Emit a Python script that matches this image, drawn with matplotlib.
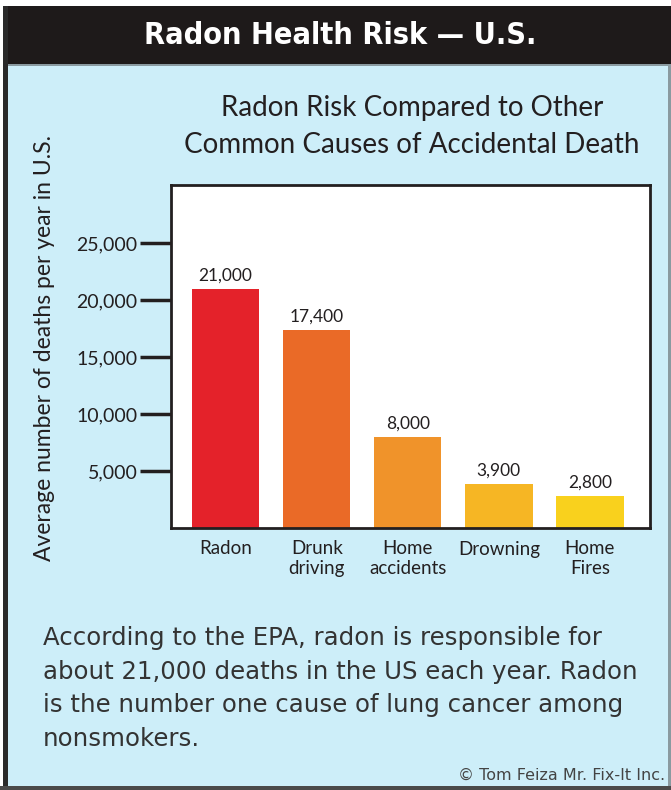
import numpy as np
import matplotlib.pyplot as plt
from matplotlib.patches import Rectangle

# data
causes = ["Radon", "Drunk\ndriving", "Home\naccidents", "Drowning", "Home\nFires"]
deaths = [21000, 17400, 8000, 3900, 2800]
labels = ["21,000", "17,400", "8,000", "3,900", "2,800"]
colors = ["#e4222a", "#ea6a27", "#f0932a", "#f6b624", "#f9d11d"]
yticks = [5000, 10000, 15000, 20000, 25000]
ytick_labels = ["5,000", "10,000", "15,000", "20,000", "25,000"]

W, H = 671, 790
bg = "#cdeef9"
sans = ["Lato", "DejaVu Sans"]
hand = ["DejaVu Sans"]

fig = plt.figure(figsize=(W/100, H/100), dpi=100)
fig.patch.set_facecolor(bg)

def band(x0, y0, w, h, c):
    # rectangle given in pixels from the top-left corner
    fig.add_artist(Rectangle((x0/W, 1-(y0+h)/H), w/W, h/H, transform=fig.transFigure,
                             facecolor=c, edgecolor="none"))

band(0, 0, W, 6, "white")
band(0, 6, W, 58, "#1e1a1a")
band(0, 64, W, 2, "#8a9aa0")
band(0, 0, 3, H, "white")
band(3, 6, 5, H-6, "#2a2a2a")
band(W-3, 64, 3, H-64, "#8a9aa0")
band(0, H-4, W, 4, "#4a4a4a")

fig.text(340/W, 1-36/H, "Radon Health Risk \u2014 U.S.", color="white",
         fontsize=22, fontweight="bold", fontstretch="condensed",
         family=["DejaVu Sans"], ha="center", va="center")

fig.text(412/W, 1-108/H, "Radon Risk Compared to Other", fontsize=20,
         family=sans, color="#231f20", ha="center", va="center")
fig.text(412/W, 1-145/H, "Common Causes of Accidental Death", fontsize=20,
         family=sans, color="#231f20", ha="center", va="center")

ax = fig.add_axes([171/W, 1-528/H, (650-171)/W, (528-185)/H])
x = np.arange(len(causes))
ax.bar(x, deaths, width=0.74, color=colors)
for xi, d, lab in zip(x, deaths, labels):
    ax.text(xi, d + 450, lab, ha="center", va="bottom", fontsize=12.5,
            family=sans, color="#231f20")

ax.set_xlim(-0.6, 4.66)
ax.set_ylim(0, 30100)
ax.set_yticks(yticks)
ax.set_yticklabels(ytick_labels, family=sans, fontsize=14, color="#231f20")
ax.tick_params(axis="y", length=22, width=2.5, color="#231f20", pad=2)
ax.set_xticks(x)
ax.set_xticklabels(causes, family=sans, fontsize=13.5, color="#231f20",
                   linespacing=1.2, va="top")
ax.tick_params(axis="x", length=0, pad=9)
for s in ax.spines.values():
    s.set_linewidth(2)
    s.set_color("#231f20")

fig.text(45/W, 1-348/H, "Average number of deaths per year in U.S.", rotation=90,
         fontsize=16.5, family=sans, color="#231f20", ha="center", va="center")

body = ["According to the EPA, radon is responsible for",
        "about 21,000 deaths in the US each year. Radon",
        "is the number one cause of lung cancer among",
        "nonsmokers."]
for i, line in enumerate(body):
    fig.text(43/W, 1-(638 + i*33.5)/H, line, fontsize=17.6, family=hand,
             color="#333333", ha="left", va="center")

fig.text(665/W, 1-775/H, "\u00a9 Tom Feiza Mr. Fix-It Inc.", fontsize=11.5,
         family=hand, color="#444444", ha="right", va="center")

fig.savefig("out.png", dpi=100, facecolor=fig.get_facecolor())
